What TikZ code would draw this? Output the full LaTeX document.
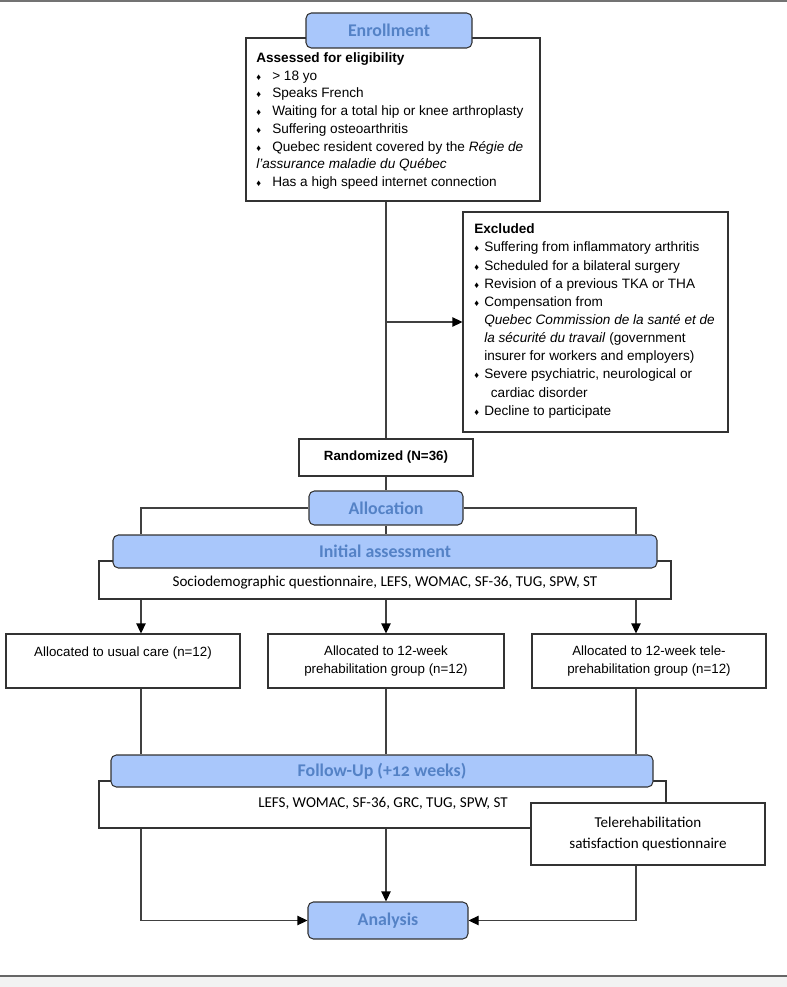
\documentclass[tikz,border=0pt]{standalone}
\usepackage{fontspec}
\setmainfont{Liberation Sans}
\newfontfamily\carlito{Carlito}
\usepackage{tikz}
\usetikzlibrary{arrows.meta}
\definecolor{headfill}{RGB}{169,199,251}
\definecolor{headtext}{RGB}{84,130,198}
\newcommand{\bul}{\makebox[12pt][l]{\fontsize{7}{7}\selectfont ♦}}
\newcommand{\xbul}{\makebox[7.5pt][l]{\fontsize{7}{7}\selectfont ♦}}
\begin{document}
\begin{tikzpicture} [x=0.75pt, y=-0.75pt,
                    wh/.style 2 args={minimum width=#1*0.75pt, minimum height=#2*0.75pt},
                    head_style/.style={draw=black!80, line width=0.8pt, fill=headfill, rounded corners=4pt, inner sep=0pt,
                                       text=headtext, font=\carlito\bfseries\fontsize{13.4}{15}\selectfont},
                    box_style/.style={draw=black!80, line width=0.8pt, fill=white, inner sep=0pt, font=\fontsize{10}{13.5}\selectfont},
                    list_style/.style={anchor=west, align=left, inner sep=0pt, font=\fontsize{10.2}{13.3}\selectfont},
                    calibri_style/.style={inner sep=0pt, font=\carlito\fontsize{11.3}{15.75}\selectfont},
                    line_style/.style={draw=black!75, line width=0.8pt},
                    arrow_style/.style={draw=black!75, line width=0.8pt, -{Triangle[length=7.5pt,width=7pt,black]}}]
                    \useasboundingbox (0,0) rectangle (787,987);
                    \fill[black!55] (0,0) rectangle (787,2.5);
                    \fill[black!5] (0,976) rectangle (787,987);
                    \draw[black!60, line width=1.1pt] (0,976) -- (787,976);
                    \coordinate (left_col) at (141,504);
                    \coordinate (right_col) at (636,504);
                    \node[box_style, wh={294}{163}] (elig) at (393,119.5) {};
                    \node[list_style] (elig_txt) at (256,121) {\textbf{Assessed for eligibility}\\
                        \bul > 18 yo\\
                        \bul Speaks French\\
                        \bul Waiting for a total hip or knee arthroplasty\\
                        \bul Suffering osteoarthritis\\
                        \bul Quebec resident covered by the \textit{Régie de}\\
                        \textit{l'assurance maladie du Québec}\\
                        \bul Has a high speed internet connection};
                    \node[head_style, wh={166}{35}] (enroll) at (389,30.5) {Enrollment};
                    \node[box_style, wh={265}{220}] (excl) at (595.5,322) {};
                    \node[list_style, font=\fontsize{10.2}{13.6}\selectfont] (excl_txt) at (474,321) {\textbf{Excluded}\\
                        \xbul Suffering from inflammatory arthritis\\
                        \xbul Scheduled for a bilateral surgery\\
                        \xbul Revision of a previous TKA or THA\\
                        \xbul Compensation from\\
                        \hspace*{7.5pt}\textit{Quebec Commission de la santé et de}\\
                        \hspace*{7.5pt}\textit{la sécurité du travail} (government\\
                        \hspace*{7.5pt}insurer for workers and employers)\\
                        \xbul Severe psychiatric, neurological or\\
                        \hspace*{12.5pt}cardiac disorder\\
                        \xbul Decline to participate};
                    \node[box_style, wh={174}{37}, font=\bfseries] (rand) at (386,457.5) {Randomized (N=36)};
                    \node[head_style, wh={154}{34}] (alloc) at (386,508) {Allocation};
                    \node[box_style, wh={572}{38}] (initbox) at (385,580) {};
                    \node[calibri_style] (init_txt) at (385,583) {Sociodemographic questionnaire, LEFS, WOMAC, SF-36, TUG, SPW, ST};
                    \node[head_style, wh={544}{33}] (inithead) at (385,551.5) {Initial assessment};
                    \node[box_style, wh={234}{54}, align=center] (usual) at (123,661) {Allocated to usual care (n=12)\\\mbox{}};
                    \node[box_style, wh={236}{54}, align=center] (prehab) at (386,661) {Allocated to 12-week\\prehabilitation group (n=12)};
                    \node[box_style, wh={234}{54}, align=center] (tele) at (649,661) {Allocated to 12-week tele-\\prehabilitation group (n=12)};
                    \node[box_style, wh={567}{47}] (fubox) at (382.5,804.5) {};
                    \node[calibri_style] (fu_txt) at (383,803) {LEFS, WOMAC, SF-36, GRC, TUG, SPW, ST};
                    \node[head_style, wh={542}{32}] (fuhead) at (382,771) {Follow-Up (+{\addfontfeatures{Numbers=OldStyle}12} weeks)};
                    \node[box_style, wh={234}{62}, align=center, calibri_style] (telebox) at (648,834) {Telerehabilitation\\satisfaction questionnaire};
                    \node[head_style, wh={160}{37}] (analysis) at (388,920.5) {Analysis};
                    \draw[line_style] (rand.north |- elig.south) -- (rand.north);
                    \draw[arrow_style] (rand.north |- excl.west) -- (excl.west);
                    \draw[line_style] (rand.south) -- (alloc.north);
                    \draw[line_style] (alloc.west) -| (left_col |- inithead.north);
                    \draw[line_style] (alloc.east) -| (right_col |- inithead.north);
                    \draw[line_style] (alloc.south) -- (alloc.south |- inithead.north);
                    \draw[arrow_style] (left_col |- initbox.south) -- (left_col |- usual.north);
                    \draw[arrow_style] (prehab.north |- initbox.south) -- (prehab.north);
                    \draw[arrow_style] (right_col |- initbox.south) -- (right_col |- tele.north);
                    \draw[line_style] (left_col |- usual.south) -- (left_col |- fuhead.north);
                    \draw[line_style] (prehab.south) -- (prehab.south |- fuhead.north);
                    \draw[line_style] (right_col |- tele.south) -- (right_col |- fuhead.north);
                    \draw[arrow_style] (left_col |- fubox.south) |- (analysis.west);
                    \draw[arrow_style] (prehab.south |- fubox.south) -- (prehab.south |- analysis.north);
                    \draw[arrow_style] (right_col |- telebox.south) |- (analysis.east);
                \end{tikzpicture}
\end{document}
